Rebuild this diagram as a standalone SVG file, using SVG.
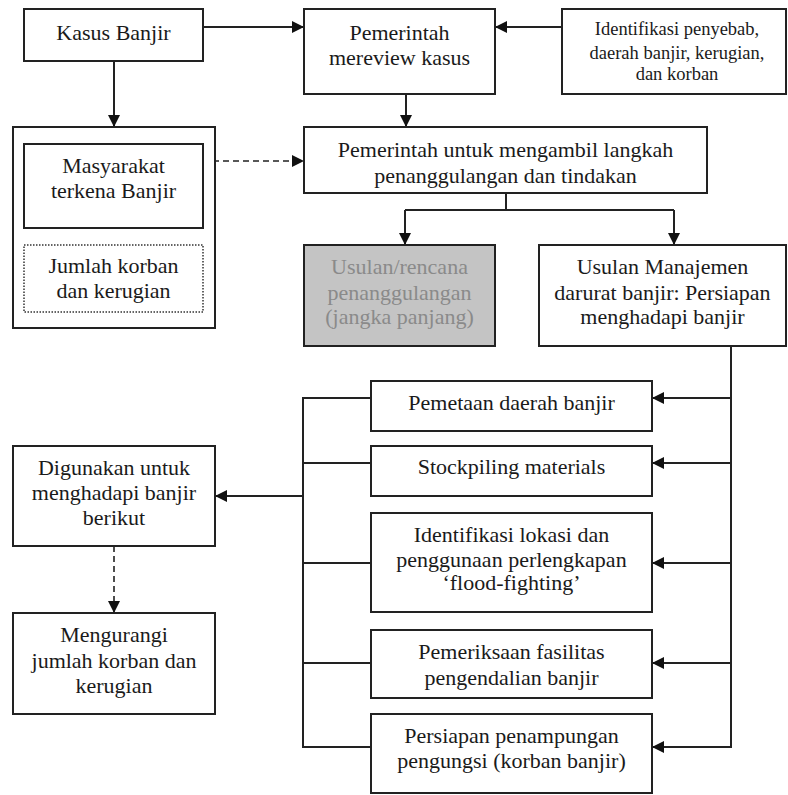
<svg xmlns="http://www.w3.org/2000/svg" width="788" height="795" viewBox="0 0 788 795">
  <style>
    .box { fill: #ffffff; stroke: #222222; stroke-width: 2; }
    .dotted { fill: #ffffff; stroke: #333333; stroke-width: 1.5; stroke-dasharray: 1.5 1.5; }
    .grey { fill: #c4c4c4; stroke: #222222; stroke-width: 2; }
    text { font-family: 'Liberation Serif', 'Times New Roman', 'DejaVu Serif', serif; font-size: 22px; fill: #1a1a1a; text-anchor: middle; }
    .small { font-size: 18.5px; }
    .faded { fill: #8a8a8a; }
    .line { fill: none; stroke: #222222; stroke-width: 2; }
    .dash { fill: none; stroke: #222222; stroke-width: 1.6; stroke-dasharray: 6 4; }
  </style>
  <defs>
    <marker id="arrow" viewBox="0 0 12 12" refX="12" refY="6" markerWidth="12" markerHeight="12" markerUnits="userSpaceOnUse" orient="auto">
      <path d="M0,0 L12,6 L0,12 Z" fill="#111111"/>
    </marker>
  </defs>
  <rect width="788" height="795" fill="#ffffff"/>

  <!-- connectors -->
  <g id="connectors">
    <line class="line" x1="203" y1="27" x2="304" y2="27" marker-end="url(#arrow)"/>
    <line class="line" x1="562" y1="27" x2="495" y2="27" marker-end="url(#arrow)"/>
    <line class="line" x1="114" y1="61" x2="114" y2="127" marker-end="url(#arrow)"/>
    <line class="line" x1="406" y1="94" x2="406" y2="127" marker-end="url(#arrow)"/>
    <line class="dash" x1="203" y1="161" x2="304" y2="161" marker-end="url(#arrow)"/>
    <!-- split into long-term and emergency proposals -->
    <line class="line" x1="506" y1="193" x2="506" y2="210"/>
    <line class="line" x1="405" y1="210" x2="674" y2="210"/>
    <line class="line" x1="405" y1="210" x2="405" y2="245" marker-end="url(#arrow)"/>
    <line class="line" x1="674" y1="210" x2="674" y2="245" marker-end="url(#arrow)"/>
    <!-- feed from emergency management to each preparation task -->
    <line class="line" x1="731" y1="346" x2="731" y2="748"/>
    <line class="line" x1="732" y1="398" x2="652" y2="398" marker-end="url(#arrow)"/>
    <line class="line" x1="732" y1="463" x2="652" y2="463" marker-end="url(#arrow)"/>
    <line class="line" x1="732" y1="563" x2="652" y2="563" marker-end="url(#arrow)"/>
    <line class="line" x1="732" y1="663" x2="652" y2="663" marker-end="url(#arrow)"/>
    <line class="line" x1="732" y1="747" x2="652" y2="747" marker-end="url(#arrow)"/>
    <!-- collector on the left of the task boxes -->
    <polyline class="line" points="371,398 303,398 303,747 371,747"/>
    <line class="line" x1="303" y1="463" x2="371" y2="463"/>
    <line class="line" x1="303" y1="563" x2="371" y2="563"/>
    <line class="line" x1="303" y1="663" x2="371" y2="663"/>
    <line class="line" x1="303" y1="496" x2="215" y2="496" marker-end="url(#arrow)"/>
    <line class="dash" x1="114" y1="546" x2="114" y2="613" marker-end="url(#arrow)"/>
  </g>

  <g id="kasus-banjir">
    <rect class="box" x="24" y="9" width="179" height="52"/>
    <text x="113.5" y="40">Kasus Banjir</text>
  </g>

  <g id="dampak">
    <rect class="box" x="13" y="127" width="202" height="201"/>
  </g>

  <g id="masyarakat">
    <rect class="box" x="24" y="144" width="179" height="84"/>
    <text x="113.5" y="173">Masyarakat</text>
    <text x="113.5" y="198">terkena Banjir</text>
  </g>

  <g id="jumlah-korban">
    <rect class="dotted" x="24" y="245" width="179" height="67"/>
    <text x="113.5" y="273">Jumlah korban</text>
    <text x="113.5" y="298">dan kerugian</text>
  </g>

  <g id="pemerintah-review">
    <rect class="box" x="304" y="9" width="191" height="85"/>
    <text x="399.5" y="40">Pemerintah</text>
    <text x="399.5" y="65">mereview kasus</text>
  </g>

  <g id="identifikasi">
    <rect class="box" x="562" y="9" width="224" height="85"/>
    <text class="small" x="677" y="35">Identifikasi penyebab,</text>
    <text class="small" x="677" y="59">daerah banjir, kerugian,</text>
    <text class="small" x="677" y="80">dan korban</text>
  </g>

  <g id="langkah">
    <rect class="box" x="304" y="127" width="403" height="66"/>
    <text x="505.5" y="157">Pemerintah untuk mengambil langkah</text>
    <text x="505.5" y="183">penanggulangan dan tindakan</text>
  </g>

  <g id="jangka-panjang">
    <rect class="grey" x="304" y="245" width="191" height="101"/>
    <text class="faded" x="399.5" y="274">Usulan/rencana</text>
    <text class="faded" x="399.5" y="300">penanggulangan</text>
    <text class="faded" x="399.5" y="324">(jangka panjang)</text>
  </g>

  <g id="manajemen-darurat">
    <rect class="box" x="539" y="245" width="247" height="101"/>
    <text x="662.5" y="274">Usulan Manajemen</text>
    <text x="662.5" y="300">darurat banjir: Persiapan</text>
    <text x="662.5" y="324">menghadapi banjir</text>
  </g>

  <g id="pemetaan">
    <rect class="box" x="371" y="381" width="281" height="50"/>
    <text x="511.5" y="410">Pemetaan daerah banjir</text>
  </g>

  <g id="stockpiling">
    <rect class="box" x="371" y="446" width="281" height="50"/>
    <text x="511.5" y="474">Stockpiling materials</text>
  </g>

  <g id="flood-fighting">
    <rect class="box" x="371" y="513" width="281" height="99"/>
    <text x="511.5" y="542">Identifikasi lokasi dan</text>
    <text x="511.5" y="567">penggunaan perlengkapan</text>
    <text x="511.5" y="590">‘flood-fighting’</text>
  </g>

  <g id="pemeriksaan">
    <rect class="box" x="371" y="630" width="281" height="68"/>
    <text x="511.5" y="659">Pemeriksaan fasilitas</text>
    <text x="511.5" y="685">pengendalian banjir</text>
  </g>

  <g id="penampungan">
    <rect class="box" x="371" y="714" width="281" height="79"/>
    <text x="511.5" y="743">Persiapan penampungan</text>
    <text x="511.5" y="768">pengungsi (korban banjir)</text>
  </g>

  <g id="digunakan">
    <rect class="box" x="13" y="446" width="202" height="100"/>
    <text x="114" y="475">Digunakan untuk</text>
    <text x="114" y="500">menghadapi banjir</text>
    <text x="114" y="525">berikut</text>
  </g>

  <g id="mengurangi">
    <rect class="box" x="13" y="613" width="202" height="101"/>
    <text x="114" y="642">Mengurangi</text>
    <text x="114" y="668">jumlah korban dan</text>
    <text x="114" y="693">kerugian</text>
  </g>
</svg>
